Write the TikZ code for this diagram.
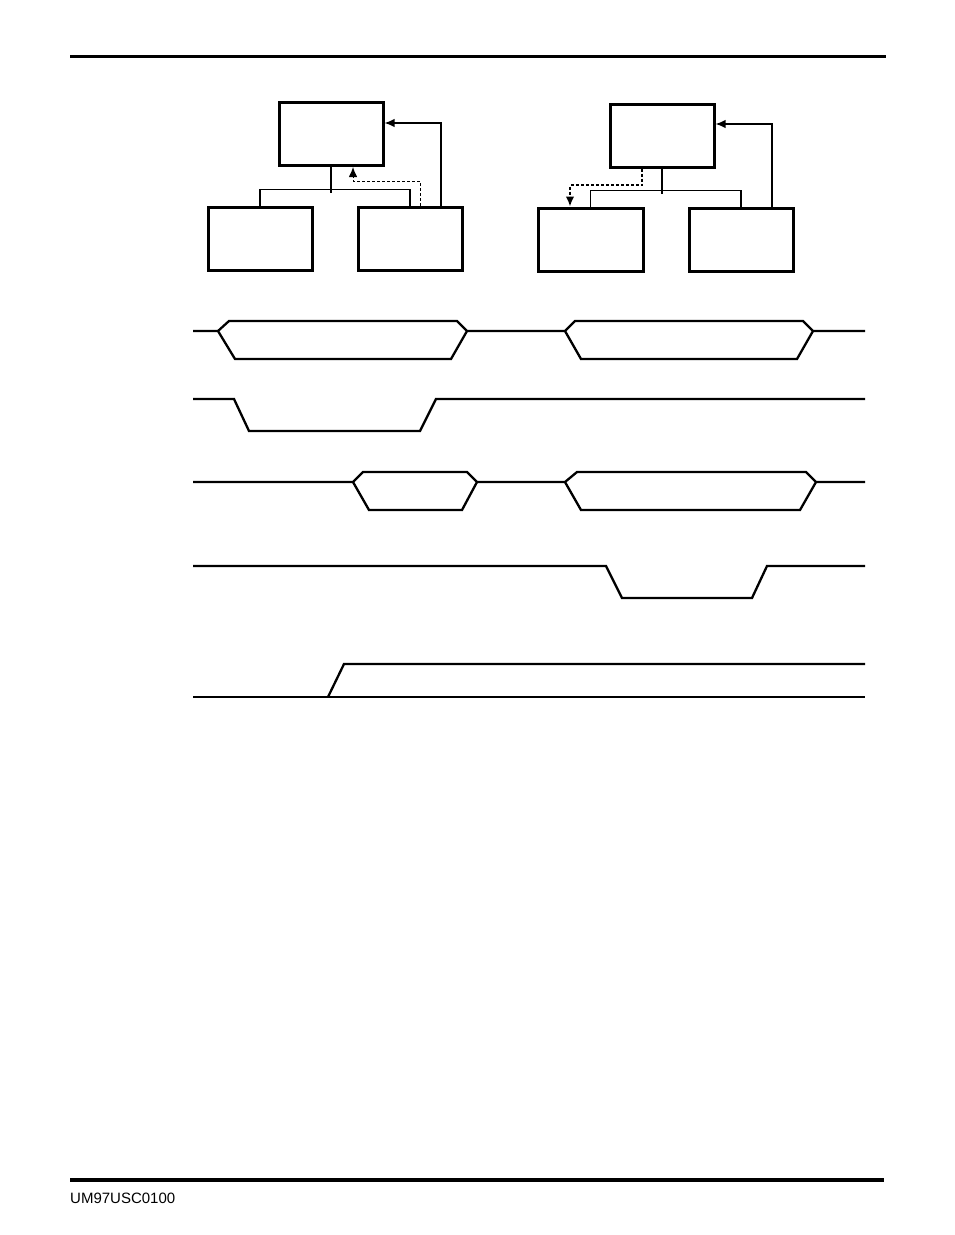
\documentclass[tikz,border=0pt]{standalone}
\usepackage{fontspec}
\newfontfamily\footfont{Liberation Sans}
\usetikzlibrary{arrows.meta}
\begin{document}
\begin{tikzpicture}[x=1pt,y=-1pt,
  blk/.style={draw,line width=3pt,inner sep=0pt,minimum width=104pt,minimum height=63pt},
  tree/.style={line width=1.2pt},
  tip/.style={-{Latex[length=10pt,width=8.5pt]}},
  arr/.style={line width=1.5pt,tip},
  darrA/.style={line width=1pt,dash pattern=on 3pt off 2pt,tip},
  darrB/.style={line width=1.8pt,dash pattern=on 3pt off 2pt,tip},
  sig/.style={line width=2.3pt,line join=miter},
  rule/.style={line width=3.5pt}]
\useasboundingbox (0,0) rectangle (954,1235);
% page rules
\coordinate (r1a) at (70,56); \coordinate (r1b) at (886,56);
\coordinate (r2a) at (70,1180); \coordinate (r2b) at (884,1180);
\draw[line width=3pt] (r1a) -- (r1b);
\draw[rule] (r2a) -- (r2b);
\node[anchor=west,inner sep=0pt,font=\footfont\fontsize{15}{18}\selectfont] (foot) at (70,1198) {UM97USC0100};
% left block diagram
\node[blk] (ltop) at (331,134) {};
\node[blk] (lbl) at (260,238.5) {};
\node[blk] (lbr) at (410,238.5) {};
\draw[tree] (ltop.south) -- ++(0,26);
\draw[tree] (lbl.north) -- ++(0,-16) -| (lbr.north);
\draw[arr] ([xshift=31pt]lbr.north) |- ([yshift=11pt]ltop.east);
\draw[darrA] ([xshift=10pt]lbr.north) |- (353,181) -- ([xshift=22pt]ltop.south);
% right block diagram
\node[blk] (rtop) at (662,135.5) {};
\node[blk,minimum width=105pt] (rbl) at (590.5,239.5) {};
\node[blk] (rbr) at (741,239.5) {};
\draw[tree] (rtop.south) -- ++(0,25);
\draw[tree] (rbl.north) -- ++(0,-16) -| (rbr.north);
\draw[arr] ([xshift=31pt]rbr.north) |- ([yshift=11.5pt]rtop.east);
\draw[darrB] ([xshift=-20pt]rtop.south) |- (570,185) -- ([xshift=-20.5pt]rbl.north);
% timing signal 1
\draw[sig] (193,331) -- (218,331) -- (229,321) -- (457,321) -- (467,331) -- (565,331) -- (575,321) -- (803,321) -- (813,331) -- (865,331);
\draw[sig] (218,331) -- (235,359) -- (451,359) -- (467,331);
\draw[sig] (565,331) -- (581,359) -- (797,359) -- (813,331);
% signal 2
\draw[sig] (193,399) -- (234,399) -- (249,431) -- (420,431) -- (436,399) -- (865,399);
% signal 3
\draw[sig] (193,482) -- (353,482) -- (363,472) -- (467,472) -- (477,482) -- (565,482) -- (577,472) -- (806,472) -- (816,482) -- (865,482);
\draw[sig] (353,482) -- (369,510) -- (462,510) -- (477,482);
\draw[sig] (565,482) -- (581,510) -- (800,510) -- (816,482);
% signal 4
\draw[sig] (193,566) -- (606,566) -- (622,598) -- (752,598) -- (767,566) -- (865,566);
% signal 5
\draw[sig] (193,697) -- (865,697);
\draw[sig] (328,697) -- (344,664) -- (865,664);
\end{tikzpicture}
\end{document}
